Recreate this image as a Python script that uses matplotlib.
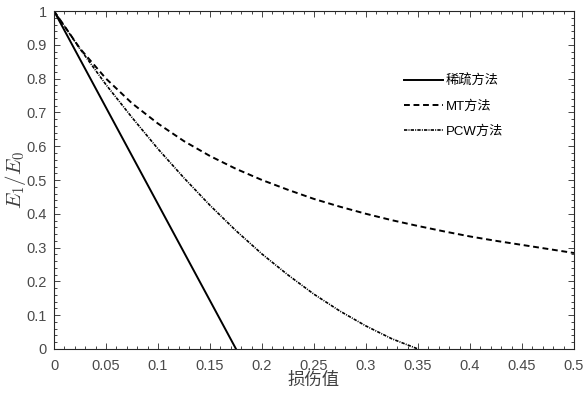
import matplotlib
matplotlib.use("Agg")
import matplotlib.pyplot as plt
from matplotlib.ticker import AutoMinorLocator, MultipleLocator, FuncFormatter

plt.rcParams['font.family'] = ['Liberation Sans', 'Noto Sans CJK SC', 'DejaVu Sans']
plt.rcParams['mathtext.fontset'] = 'cm'

# 稀疏方法
d_sparse = [0.0, 0.175]
e_sparse = [1.0, 0.0]

# MT方法
d_mt = [0.0, 0.025, 0.05, 0.075, 0.1, 0.125, 0.15, 0.175, 0.2, 0.225, 0.25,
        0.275, 0.3, 0.325, 0.35, 0.375, 0.4, 0.425, 0.45, 0.475, 0.5]
e_mt = [1.0, 0.889, 0.800, 0.727, 0.667, 0.615, 0.571, 0.533, 0.500, 0.471, 0.444,
        0.421, 0.400, 0.381, 0.364, 0.348, 0.333, 0.320, 0.308, 0.296, 0.284]

# PCW方法
d_pcw = [0.0, 0.025, 0.05, 0.075, 0.1, 0.125, 0.15, 0.175, 0.2, 0.225, 0.25,
         0.275, 0.3, 0.325, 0.35]
e_pcw = [1.0, 0.888, 0.782, 0.685, 0.592, 0.506, 0.425, 0.350, 0.281, 0.219, 0.162,
         0.112, 0.068, 0.030, 0.0]

labels = ['稀疏方法', 'MT方法', 'PCW方法']

fig = plt.figure(figsize=(5.86, 3.95), dpi=100)
ax = fig.add_axes([0.0922, 0.1165, 0.8873, 0.8555])

ax.plot(d_sparse, e_sparse, color='k', lw=1.4, label=labels[0])
ax.plot(d_mt, e_mt, color='k', lw=1.4, linestyle=(0, (3.0, 1.9)), label=labels[1])
ax.plot(d_pcw, e_pcw, color='k', lw=1.2, linestyle=(0, (2.0, 0.7, 0.6, 0.7)), label=labels[2])

ax.set_xlim(0, 0.5)
ax.set_ylim(0, 1)
ax.xaxis.set_major_locator(MultipleLocator(0.05))
ax.yaxis.set_major_locator(MultipleLocator(0.1))
ax.xaxis.set_minor_locator(AutoMinorLocator(5))
ax.yaxis.set_minor_locator(AutoMinorLocator(5))
fmt = FuncFormatter(lambda v, p: '%g' % round(v, 4))
ax.xaxis.set_major_formatter(fmt)
ax.yaxis.set_major_formatter(fmt)

grey = '#262626'
for s in ax.spines.values():
    s.set_color(grey)
    s.set_linewidth(0.8)
ax.tick_params(which='both', direction='in', top=True, right=True, color=grey,
               labelcolor='#4a4a4a', labelsize=10.5, width=0.6)
ax.tick_params(which='major', length=4.5, pad=5)
ax.tick_params(axis='x', which='major', pad=7)
ax.tick_params(which='minor', length=2.5)

ax.set_xlabel('损伤值', fontsize=12.5, family=['Noto Sans CJK SC'], color='#404040', labelpad=-1)
ax.set_ylabel('$E_1/E_0$', fontsize=15, color='#404040', labelpad=-1)

ax.legend(loc='upper left', bbox_to_anchor=(0.673, 0.812), frameon=False,
          fontsize=9.5, handlelength=2.95, handletextpad=0.2, labelspacing=0.95,
          borderaxespad=0, borderpad=0)

fig.savefig('out.png', dpi=100)
